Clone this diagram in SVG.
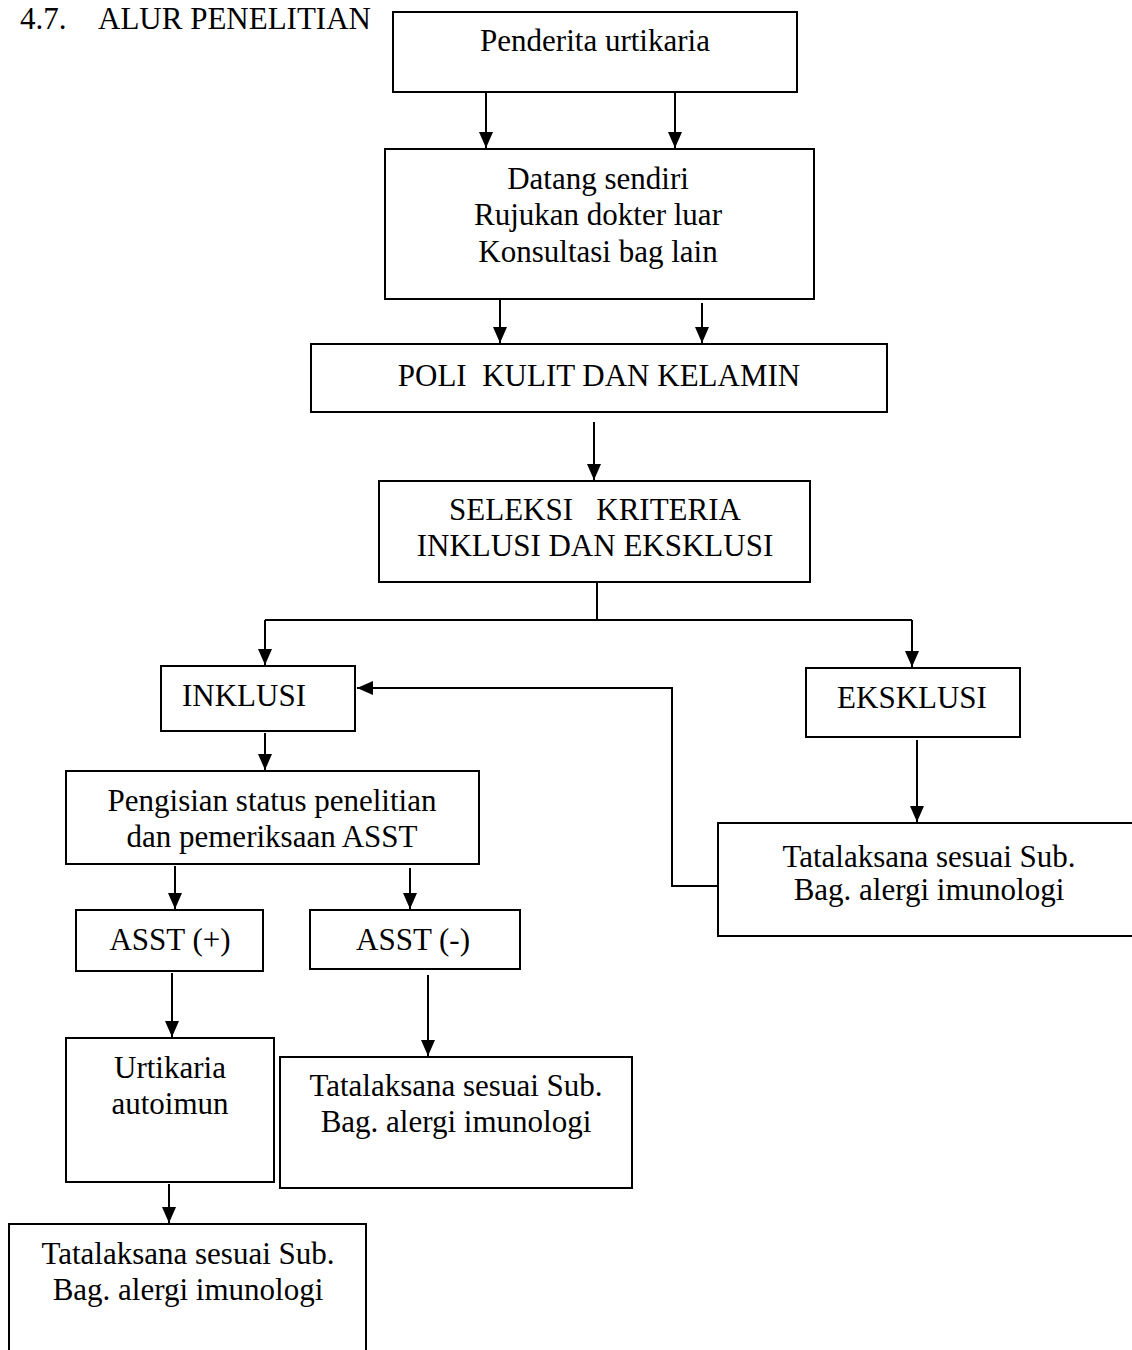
<svg xmlns="http://www.w3.org/2000/svg" width="1132" height="1350" viewBox="0 0 1132 1350">
<style>
  .box { fill: #fff; stroke: #000; stroke-width: 2; }
  .t { font-family: "Liberation Serif", "Times New Roman", serif; font-size: 31px; fill: #000; text-anchor: middle; white-space: pre; }
  .ln { fill: none; stroke: #000; stroke-width: 2; }
</style>
<defs>
  <marker id="ah" markerUnits="userSpaceOnUse" markerWidth="16" markerHeight="14" viewBox="0 0 16 14" refX="16" refY="7" orient="auto">
    <path d="M0,0 L16,7 L0,14 z" fill="#000"/>
  </marker>
</defs>
<rect width="1132" height="1350" fill="#fff"/>
<text class="t" x="20" y="29" style="text-anchor:start">4.7.</text>
<text class="t" x="98" y="29" style="text-anchor:start">ALUR PENELITIAN</text>

<g id="connectors">
  <line class="ln" x1="486" y1="92" x2="486" y2="148" marker-end="url(#ah)"/>
  <line class="ln" x1="675" y1="92" x2="675" y2="148" marker-end="url(#ah)"/>
  <line class="ln" x1="500" y1="300" x2="500" y2="343" marker-end="url(#ah)"/>
  <line class="ln" x1="702" y1="303" x2="702" y2="343" marker-end="url(#ah)"/>
  <line class="ln" x1="594" y1="422" x2="594" y2="480" marker-end="url(#ah)"/>
  <polyline class="ln" points="597,582 597,620"/>
  <polyline class="ln" points="265,620 912,620"/>
  <line class="ln" x1="265" y1="620" x2="265" y2="665" marker-end="url(#ah)"/>
  <line class="ln" x1="912" y1="620" x2="912" y2="667" marker-end="url(#ah)"/>
  <line class="ln" x1="917" y1="740" x2="917" y2="822" marker-end="url(#ah)"/>
  <polyline class="ln" points="718,886 672,886 672,688 357,688" marker-end="url(#ah)"/>
  <line class="ln" x1="265" y1="733" x2="265" y2="770" marker-end="url(#ah)"/>
  <line class="ln" x1="175" y1="866" x2="175" y2="909" marker-end="url(#ah)"/>
  <line class="ln" x1="410" y1="868" x2="410" y2="909" marker-end="url(#ah)"/>
  <line class="ln" x1="172" y1="973" x2="172" y2="1037" marker-end="url(#ah)"/>
  <line class="ln" x1="428" y1="975" x2="428" y2="1056" marker-end="url(#ah)"/>
  <line class="ln" x1="169" y1="1184" x2="169" y2="1223" marker-end="url(#ah)"/>
</g>

<g id="n1">
  <rect class="box" x="393" y="12" width="404" height="80"/>
  <text class="t" x="595" y="51">Penderita urtikaria</text>
</g>
<g id="n2">
  <rect class="box" x="385" y="149" width="429" height="150"/>
  <text class="t" x="598" y="189">Datang sendiri</text>
  <text class="t" x="598" y="225">Rujukan dokter luar</text>
  <text class="t" x="598" y="262">Konsultasi bag lain</text>
</g>
<g id="n3">
  <rect class="box" x="311" y="344" width="576" height="68"/>
  <text class="t" x="599" y="386">POLI  KULIT DAN KELAMIN</text>
</g>
<g id="n4">
  <rect class="box" x="379" y="481" width="431" height="101"/>
  <text class="t" x="595" y="520">SELEKSI   KRITERIA</text>
  <text class="t" x="595" y="556">INKLUSI DAN EKSKLUSI</text>
</g>
<g id="n5">
  <rect class="box" x="161" y="666" width="194" height="65"/>
  <text class="t" x="182" y="706" style="text-anchor:start">INKLUSI</text>
</g>
<g id="n6">
  <rect class="box" x="806" y="668" width="214" height="69"/>
  <text class="t" x="912" y="708">EKSKLUSI</text>
</g>
<g id="n7">
  <rect class="box" x="718" y="823" width="430" height="113"/>
  <text class="t" x="929" y="867">Tatalaksana sesuai Sub.</text>
  <text class="t" x="929" y="900">Bag. alergi imunologi</text>
</g>
<g id="n8">
  <rect class="box" x="66" y="771" width="413" height="93"/>
  <text class="t" x="272" y="811">Pengisian status penelitian</text>
  <text class="t" x="272" y="847">dan pemeriksaan ASST</text>
</g>
<g id="n9">
  <rect class="box" x="76" y="910" width="187" height="61"/>
  <text class="t" x="170" y="950">ASST (+)</text>
</g>
<g id="n10">
  <rect class="box" x="310" y="910" width="210" height="59"/>
  <text class="t" x="413" y="950">ASST (-)</text>
</g>
<g id="n11">
  <rect class="box" x="66" y="1038" width="208" height="144"/>
  <text class="t" x="170" y="1078">Urtikaria</text>
  <text class="t" x="170" y="1114">autoimun</text>
</g>
<g id="n12">
  <rect class="box" x="280" y="1057" width="352" height="131"/>
  <text class="t" x="456" y="1096">Tatalaksana sesuai Sub.</text>
  <text class="t" x="456" y="1132">Bag. alergi imunologi</text>
</g>
<g id="n13">
  <rect class="box" x="9" y="1224" width="357" height="140"/>
  <text class="t" x="188" y="1264">Tatalaksana sesuai Sub.</text>
  <text class="t" x="188" y="1300">Bag. alergi imunologi</text>
</g>
</svg>
